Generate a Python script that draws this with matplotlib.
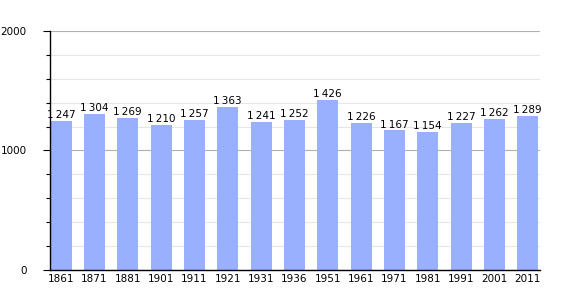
import matplotlib
matplotlib.use("Agg")
import matplotlib.pyplot as plt
import numpy as np

# === DATA ===
years = ["1861", "1871", "1881", "1901", "1911", "1921", "1931", "1936",
         "1951", "1961", "1971", "1981", "1991", "2001", "2011"]
population = [1247, 1304, 1269, 1210, 1257, 1363, 1241, 1252,
              1426, 1226, 1167, 1154, 1227, 1262, 1289]

BAR_COLOR = "#99afff"

fig = plt.figure(figsize=(5.7, 3.0), dpi=100)
ax = fig.add_axes([0.088, 0.1, 0.86, 0.797])

x = np.arange(len(years))
ax.bar(x, population, width=0.63, color=BAR_COLOR, zorder=2)

for xi, v in zip(x, population):
    label = f"{v:,}".replace(",", "\u2009")
    ax.text(xi, v + 8, label, ha="center", va="bottom", fontsize=7.5, zorder=3)

ax.set_xlim(-0.33, len(years) - 0.62)
ax.set_ylim(0, 2000)
ax.set_xticks(x)
ax.set_xticklabels(years, fontsize=7.5)
ax.set_yticks([0, 1000, 2000])
ax.set_yticklabels(["0", "1000", "2000"], fontsize=7.5)
ax.set_yticks(np.arange(0, 2001, 200), minor=True)
ax.tick_params(axis="x", length=0, pad=3)
ax.tick_params(axis="y", which="major", length=5, width=0.8, pad=12)
ax.tick_params(axis="y", which="minor", length=3, width=0.8)

ax.grid(axis="y", which="major", color="#b0b0b0", linewidth=0.8, zorder=1)
ax.grid(axis="y", which="minor", color="#e6e6e6", linewidth=0.8, zorder=0)
ax.set_axisbelow(True)

for side in ["top", "right"]:
    ax.spines[side].set_visible(False)
ax.spines["left"].set_linewidth(1.0)
ax.spines["bottom"].set_linewidth(1.0)

fig.savefig("out.png", dpi=100)
